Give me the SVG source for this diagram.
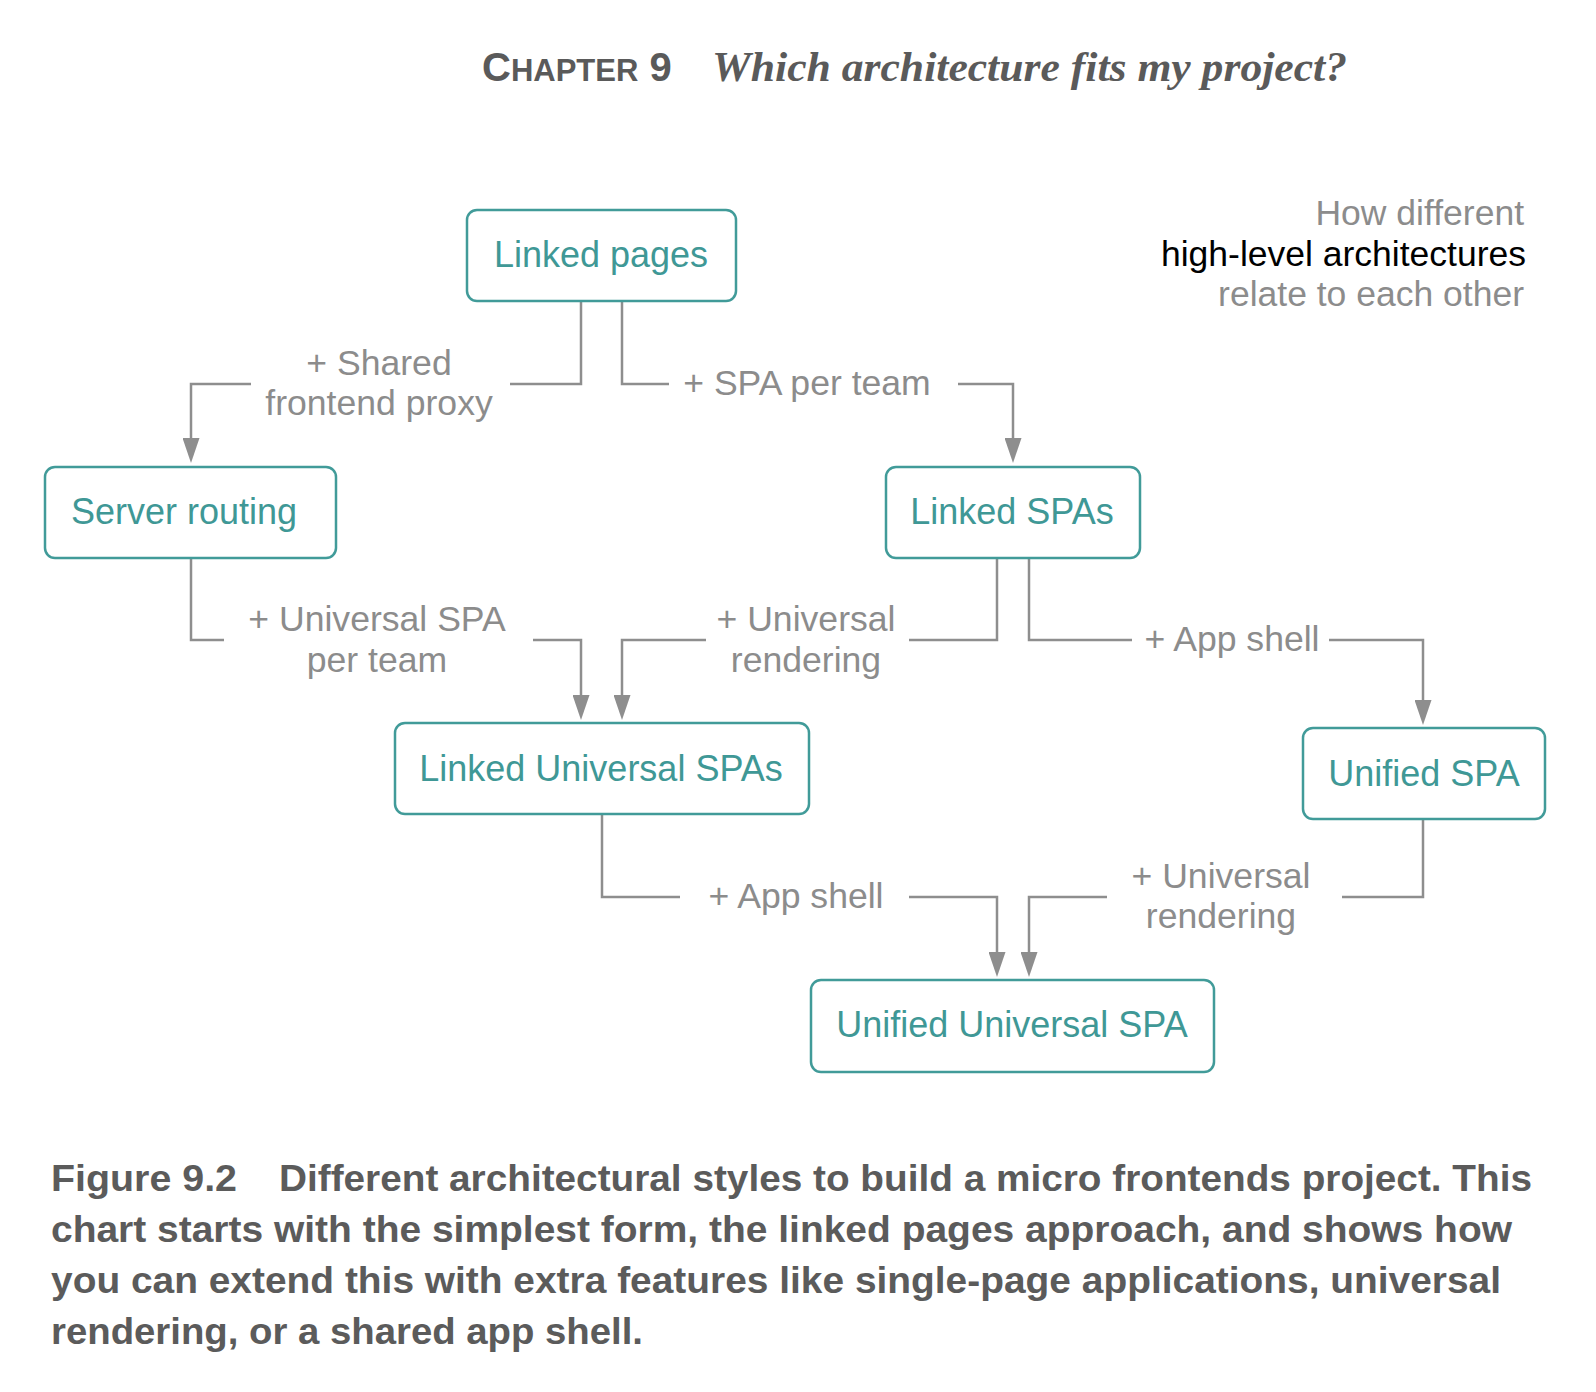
<svg xmlns="http://www.w3.org/2000/svg" width="1596" height="1392" viewBox="0 0 1596 1392">
<style>
.box{fill:#fff;stroke:#419b99;stroke-width:2.5}
.nt{font-family:"Liberation Sans",Arial,sans-serif;font-size:36px;fill:#3f9896;text-anchor:middle}
.lbl{font-family:"Liberation Sans",Arial,sans-serif;font-size:35.6px;fill:#8c8c8c;text-anchor:middle}
.ln{fill:none;stroke:#8e8e8e;stroke-width:2.5}
.note{font-family:"Liberation Sans",Arial,sans-serif;font-size:35.5px;text-anchor:end}
.cap{font-family:"Liberation Sans",Arial,sans-serif;font-weight:bold;font-size:37px;fill:#5b5b5b}
</style>
<defs>
<marker id="ah" viewBox="0 0 25 17" refX="15" refY="8.5" markerWidth="25" markerHeight="17" markerUnits="userSpaceOnUse" orient="auto">
<path d="M0,0 L25,8.5 L0,17 z" fill="#8e8e8e"/>
</marker>
</defs>
<rect width="1596" height="1392" fill="#fff"/>
<g id="header">
<text x="482" y="81" font-family="'Liberation Sans',Arial,sans-serif" font-weight="bold" fill="#5a5a5a"><tspan font-size="40">C</tspan><tspan font-size="31">HAPTER</tspan><tspan font-size="40"> 9</tspan></text>
<text x="712" y="81" font-family="'Liberation Serif','Times New Roman',serif" font-weight="bold" font-style="italic" font-size="42" fill="#5a5a5a" textLength="635" lengthAdjust="spacingAndGlyphs">Which architecture fits my project?</text>
</g>
<g id="note">
<text class="note" x="1524" y="225" fill="#8c8c8c">How different</text>
<text class="note" x="1526" y="266" fill="#000">high-level architectures</text>
<text class="note" x="1524" y="306" fill="#8c8c8c">relate to each other</text>
</g>
<g id="connectors">
<path class="ln" d="M581,301 V384 H510 M251,384 H191 V453" marker-end="url(#ah)"/>
<path class="ln" d="M622,301 V384 H669 M958,384 H1013 V453" marker-end="url(#ah)"/>
<path class="ln" d="M191,558 V640 H224 M533,640 H581 V710" marker-end="url(#ah)"/>
<path class="ln" d="M997,558 V640 H909 M706,640 H622 V710" marker-end="url(#ah)"/>
<path class="ln" d="M1029,558 V640 H1132 M1329,640 H1423 V715" marker-end="url(#ah)"/>
<path class="ln" d="M602,814 V897 H680 M909,897 H997 V967" marker-end="url(#ah)"/>
<path class="ln" d="M1423,819 V897 H1342 M1107,897 H1029 V967" marker-end="url(#ah)"/>
<text class="lbl" x="379" y="375">+ Shared</text>
<text class="lbl" x="379" y="415">frontend proxy</text>
<text class="lbl" x="807" y="395">+ SPA per team</text>
<text class="lbl" x="377" y="631">+ Universal SPA</text>
<text class="lbl" x="377" y="672">per team</text>
<text class="lbl" x="806" y="631">+ Universal</text>
<text class="lbl" x="806" y="672">rendering</text>
<text class="lbl" x="1232" y="651">+ App shell</text>
<text class="lbl" x="796" y="908">+ App shell</text>
<text class="lbl" x="1221" y="888">+ Universal</text>
<text class="lbl" x="1221" y="928">rendering</text>
</g>
<g id="linked-pages">
<rect class="box" x="467" y="210" width="269" height="91" rx="10"/>
<text class="nt" x="601" y="267">Linked pages</text>
</g>
<g id="server-routing">
<rect class="box" x="45" y="467" width="291" height="91" rx="10"/>
<text class="nt" x="184" y="524">Server routing</text>
</g>
<g id="linked-spas">
<rect class="box" x="886" y="467" width="254" height="91" rx="10"/>
<text class="nt" x="1012" y="524">Linked SPAs</text>
</g>
<g id="linked-universal-spas">
<rect class="box" x="395" y="723" width="414" height="91" rx="10"/>
<text class="nt" x="601" y="781">Linked Universal SPAs</text>
</g>
<g id="unified-spa">
<rect class="box" x="1303" y="728" width="242" height="91" rx="10"/>
<text class="nt" x="1424" y="786">Unified SPA</text>
</g>
<g id="unified-universal-spa">
<rect class="box" x="811" y="980" width="403" height="92" rx="10"/>
<text class="nt" x="1012" y="1037">Unified Universal SPA</text>
</g>
<g id="caption">
<text class="cap" x="51" y="1191" textLength="186" lengthAdjust="spacingAndGlyphs">Figure 9.2</text>
<text class="cap" x="279" y="1191" textLength="1253" lengthAdjust="spacingAndGlyphs">Different architectural styles to build a micro frontends project. This</text>
<text class="cap" x="51" y="1242" textLength="1461" lengthAdjust="spacingAndGlyphs">chart starts with the simplest form, the linked pages approach, and shows how</text>
<text class="cap" x="51" y="1293" textLength="1450" lengthAdjust="spacingAndGlyphs">you can extend this with extra features like single-page applications, universal</text>
<text class="cap" x="51" y="1344" textLength="592" lengthAdjust="spacingAndGlyphs">rendering, or a shared app shell.</text>
</g>
</svg>
